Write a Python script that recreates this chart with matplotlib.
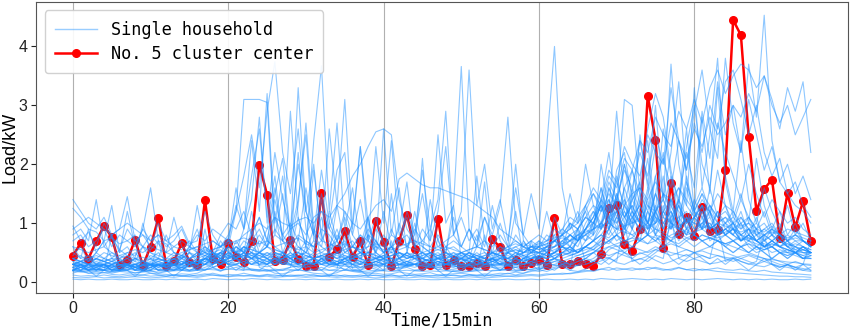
import matplotlib
matplotlib.use("Agg")
import matplotlib.pyplot as plt
from matplotlib.lines import Line2D

time_idx = list(range(96))

cluster_center = [
    0.45, 0.66, 0.40, 0.69, 0.96, 0.76, 0.29, 0.37, 0.72, 0.28, 0.60, 1.09,
    0.28, 0.35, 0.66, 0.34, 0.29, 1.39, 0.40, 0.30, 0.67, 0.43, 0.34, 0.69,
    1.99, 1.48, 0.35, 0.38, 0.71, 0.39, 0.28, 0.28, 1.52, 0.43, 0.56, 0.86,
    0.42, 0.69, 0.29, 1.04, 0.68, 0.27, 0.69, 1.14, 0.56, 0.27, 0.29, 1.07,
    0.29, 0.37, 0.27, 0.27, 0.33, 0.27, 0.73, 0.59, 0.27, 0.37, 0.27, 0.33,
    0.37, 0.29, 1.09, 0.31, 0.30, 0.35, 0.31, 0.27, 0.47, 1.26, 1.30, 0.64,
    0.52, 0.90, 3.16, 2.42, 0.58, 1.68, 0.81, 1.10, 0.79, 1.27, 0.86, 0.89,
    1.90, 4.45, 4.19, 2.47, 1.20, 1.58, 1.74, 0.75, 1.51, 0.93, 1.37, 0.69,
]

h01 = [0.22,0.18,0.15,0.14,0.16,0.13,0.12,0.14,0.13,0.12,0.15,0.14,
       0.13,0.12,0.14,0.13,0.15,0.21,0.24,0.18,0.26,0.31,0.22,0.2,
       0.18,0.21,0.15,0.14,0.17,0.22,0.18,0.15,0.14,0.13,0.16,0.21,
       0.18,0.16,0.14,0.15,0.13,0.14,0.17,0.15,0.13,0.14,0.16,0.12,
       0.13,0.14,0.15,0.13,0.12,0.14,0.13,0.15,0.14,0.17,0.15,0.18,
       0.21,0.18,0.23,0.26,0.2,0.18,0.22,0.31,0.36,0.42,0.33,0.3,
       0.36,0.39,0.44,0.37,0.31,0.35,0.41,0.47,0.39,0.35,0.31,0.33,
       0.37,0.42,0.35,0.31,0.28,0.26,0.31,0.27,0.25,0.22,0.2,0.18]
h02 = [0.05,0.04,0.05,0.04,0.04,0.05,0.04,0.04,0.05,0.04,0.04,0.05,
       0.04,0.05,0.04,0.04,0.05,0.04,0.06,0.05,0.04,0.05,0.04,0.06,
       0.05,0.04,0.05,0.04,0.04,0.05,0.04,0.05,0.04,0.04,0.05,0.04,
       0.04,0.05,0.04,0.05,0.04,0.04,0.05,0.04,0.04,0.05,0.04,0.04,
       0.05,0.04,0.04,0.05,0.04,0.05,0.04,0.04,0.05,0.04,0.04,0.05,
       0.04,0.05,0.04,0.04,0.05,0.04,0.05,0.04,0.06,0.05,0.04,0.05,
       0.06,0.05,0.04,0.05,0.04,0.06,0.05,0.04,0.05,0.04,0.05,0.06,
       0.05,0.04,0.05,0.04,0.05,0.04,0.05,0.04,0.04,0.05,0.04,0.05]
h03 = [0.35,0.3,0.28,0.26,0.3,0.27,0.25,0.28,0.26,0.3,0.33,0.29,
       0.27,0.25,0.24,0.26,0.28,0.3,0.45,0.6,0.52,0.4,0.35,0.3,
       0.28,0.26,0.3,0.32,0.28,0.26,0.25,0.27,0.3,0.34,0.29,0.27,
       0.25,0.24,0.26,0.28,0.27,0.25,0.24,0.26,0.3,0.28,0.26,0.25,
       0.24,0.26,0.27,0.25,0.24,0.26,0.28,0.3,0.27,0.25,0.26,0.28,
       0.3,0.32,0.29,0.27,0.26,0.28,0.3,0.35,0.4,0.55,0.62,0.5,
       0.45,0.48,0.52,0.6,0.55,0.5,0.47,0.44,0.5,0.53,0.48,0.45,
       0.42,0.4,0.44,0.47,0.43,0.4,0.38,0.36,0.34,0.33,0.31,0.3]
h04 = [1.25,1.1,0.9,0.85,0.7,0.75,0.65,0.7,0.8,0.6,0.55,0.7,
       0.65,0.5,0.45,0.55,0.6,0.5,0.45,0.4,0.35,0.4,0.45,0.5,
       0.4,0.35,0.3,0.35,0.4,0.3,0.25,0.3,0.35,0.3,0.28,0.3,
       0.25,0.3,0.28,0.25,0.3,0.32,0.28,0.26,0.3,0.27,0.25,0.28,
       0.3,0.28,0.25,0.27,0.3,0.28,0.26,0.25,0.28,0.3,0.32,0.3,
       0.28,0.3,0.35,0.32,0.3,0.28,0.35,0.4,0.5,0.6,0.55,0.5,
       0.6,0.7,0.65,0.8,0.75,0.7,0.9,0.85,0.8,0.7,0.75,0.8,
       0.85,0.9,0.8,0.75,0.7,0.65,0.6,0.7,0.65,0.6,0.55,0.5]
h05 = [0.8,0.9,0.7,1.4,0.6,0.8,0.5,1.2,0.6,0.9,1.6,0.7,
       0.5,1.1,0.6,0.5,1.3,0.6,0.4,0.7,0.5,0.4,0.6,0.5,
       0.35,0.4,0.3,0.5,0.4,0.3,0.35,0.3,0.4,0.3,0.35,0.3,
       0.3,0.25,0.3,0.35,0.3,0.25,0.3,0.28,0.3,0.25,0.3,0.35,
       0.3,0.25,0.3,0.28,0.25,0.3,0.35,0.3,0.28,0.25,0.3,0.35,
       0.3,0.35,0.4,0.35,0.3,0.35,0.4,0.5,0.6,0.9,0.7,0.8,
       1.1,0.9,1.4,0.8,1.0,1.2,0.9,1.1,0.8,1.3,0.9,1.0,
       0.8,0.9,0.7,0.8,0.6,0.7,0.8,0.6,0.7,0.5,0.6,0.55]
h06 = [0.95,0.7,0.85,0.6,1.0,0.75,0.55,0.9,0.7,0.8,0.6,1.0,
       0.7,0.8,0.95,0.65,0.7,1.2,0.8,0.6,0.75,0.5,0.6,0.55,
       0.5,0.45,0.55,0.5,0.4,0.45,0.5,0.4,0.45,0.4,0.35,0.4,
       0.45,0.4,0.35,0.4,0.38,0.35,0.4,0.45,0.4,0.35,0.38,0.4,
       0.35,0.4,0.38,0.36,0.4,0.35,0.38,0.42,0.4,0.38,0.36,0.4,
       0.42,0.4,0.45,0.5,0.48,0.45,0.5,0.6,0.75,0.9,1.1,0.95,
       1.2,1.0,1.3,1.1,0.9,1.4,1.2,1.0,1.1,1.3,1.2,0.9,
       1.0,1.1,0.95,1.0,0.9,0.85,0.95,0.8,0.9,0.85,0.8,0.75]
h07 = [0.3,0.25,0.3,0.28,0.25,0.3,0.35,0.3,0.25,0.3,0.28,0.3,
       0.35,0.3,0.4,0.35,0.3,0.45,0.4,0.5,0.6,1.2,3.1,3.1,
       3.1,3.05,0.8,1.5,0.6,2.2,0.9,0.5,1.4,0.7,0.5,0.6,
       0.4,0.5,0.45,0.4,0.35,0.4,0.3,0.35,0.3,0.35,0.4,0.3,
       0.3,0.35,0.3,0.28,0.3,0.35,0.3,0.28,0.3,0.32,0.3,0.35,
       0.3,0.35,0.4,0.35,0.3,0.4,0.45,0.5,0.6,0.7,0.8,0.6,
       0.9,0.7,1.2,0.8,0.6,1.0,0.7,0.9,0.8,1.1,0.7,0.8,
       0.6,0.7,0.8,0.6,0.5,0.55,0.6,0.5,0.45,0.5,0.4,0.45]
h08 = [0.5,0.4,0.45,0.4,0.5,0.45,0.4,0.5,0.45,0.6,0.5,0.45,
       0.4,0.5,0.45,0.6,0.55,0.5,0.7,0.6,0.8,1.2,1.8,2.5,
       1.6,2.9,3.74,2.2,1.5,2.6,1.2,0.8,1.9,1.0,0.7,1.2,
       0.8,0.6,0.9,0.7,0.5,0.6,0.5,0.45,0.5,0.4,0.45,0.5,
       0.4,0.45,0.4,0.5,0.45,0.4,0.5,0.45,0.4,0.45,0.5,0.55,
       0.5,0.45,0.5,0.6,0.55,0.5,0.6,0.7,0.9,1.1,0.8,1.3,
       1.0,1.5,0.9,1.2,1.4,1.0,1.3,0.9,1.1,1.2,0.9,1.0,
       0.8,0.9,0.7,0.8,0.7,0.6,0.7,0.6,0.55,0.5,0.5,0.45]
h09 = [0.2,0.25,0.2,0.22,0.2,0.25,0.2,0.3,0.25,0.2,0.25,0.3,
       0.25,0.3,0.35,0.3,0.4,0.35,0.5,0.4,0.6,0.5,0.9,1.4,
       2.8,1.0,1.8,0.7,2.9,1.1,0.6,2.4,3.67,1.2,2.7,0.9,
       1.6,0.6,1.1,0.5,0.8,0.6,0.4,0.5,0.45,0.4,0.35,0.4,
       0.35,0.3,0.4,0.35,0.3,0.35,0.4,0.3,0.35,0.3,0.4,0.45,
       0.4,0.35,0.4,0.5,0.45,0.5,0.6,0.55,0.7,0.9,1.2,0.8,
       1.5,1.1,0.8,1.3,1.0,0.9,1.4,1.1,0.9,1.0,1.2,0.8,
       0.9,1.0,0.8,0.7,0.9,0.6,0.7,0.8,0.6,0.5,0.6,0.5]
h10 = [0.3,0.35,0.3,0.4,0.35,0.3,0.35,0.4,0.3,0.35,0.3,0.4,
       0.35,0.3,0.4,0.5,0.35,0.4,0.45,0.5,0.4,0.6,0.5,0.8,
       1.1,0.7,1.5,2.1,0.8,3.3,1.2,2.0,0.7,2.6,1.3,3.1,
       0.9,2.3,1.0,0.6,2.6,0.8,1.6,0.5,1.2,0.6,0.5,0.45,
       0.5,0.4,0.45,0.5,0.4,0.35,0.4,0.45,0.4,0.5,0.45,0.4,
       0.5,0.45,0.5,0.55,0.6,0.5,0.7,0.8,1.0,0.9,1.3,1.0,
       1.6,1.2,0.9,1.8,1.1,1.4,1.0,1.7,1.2,0.9,1.3,1.1,
       1.0,1.2,0.9,1.1,0.8,0.9,1.0,0.8,0.7,0.8,0.7,0.6]
h11 = [0.25,0.3,0.25,0.3,0.28,0.25,0.3,0.25,0.3,0.28,0.3,0.25,
       0.3,0.28,0.25,0.3,0.35,0.3,0.4,0.35,0.5,0.45,0.6,0.5,
       0.7,0.6,0.8,0.7,0.9,1.0,0.8,1.1,1.2,0.9,1.3,1.5,
       1.8,2.0,2.3,2.55,2.6,2.5,1.4,0.9,0.7,0.6,0.5,0.55,
       0.5,0.45,0.5,0.4,0.45,0.4,0.35,0.4,0.45,0.4,0.35,0.4,
       0.45,0.4,0.45,0.5,0.55,0.5,0.6,0.7,0.8,1.0,0.9,1.1,
       1.3,1.0,0.8,1.2,0.9,1.1,1.4,0.9,1.0,1.2,0.8,0.9,
       0.8,0.9,0.7,0.75,0.7,0.6,0.65,0.6,0.55,0.5,0.55,0.5]
h12 = [0.4,0.35,0.4,0.38,0.35,0.4,0.38,0.35,0.4,0.42,0.38,0.35,
       0.4,0.38,0.42,0.4,0.45,0.5,0.55,0.6,0.7,0.65,0.8,0.9,
       1.0,0.9,1.1,1.0,0.95,1.05,1.1,1.0,1.2,1.1,1.3,1.2,
       1.0,0.9,1.1,1.3,1.4,1.2,1.75,1.85,1.75,1.65,1.6,1.6,
       1.55,1.5,1.45,1.4,1.3,1.2,1.1,0.9,0.8,0.7,0.6,0.55,
       0.5,0.55,0.6,0.65,0.7,0.75,0.8,0.9,1.0,1.2,1.4,1.3,
       1.5,1.6,1.4,1.7,1.5,1.3,1.6,1.4,1.2,1.5,1.3,1.1,
       1.2,1.0,1.1,0.9,1.0,0.8,0.9,0.8,0.7,0.75,0.7,0.65]
h13 = [0.3,0.25,0.3,0.35,0.3,0.25,0.3,0.28,0.3,0.35,0.3,0.28,
       0.3,0.35,0.4,0.3,0.35,0.4,0.5,0.45,0.6,0.5,0.7,0.6,
       0.8,0.6,0.9,0.7,0.6,0.8,0.7,0.6,0.9,0.8,0.6,0.7,
       0.5,0.6,0.8,0.7,0.5,0.9,0.6,1.2,0.8,1.5,0.7,2.5,
       1.0,1.3,3.66,0.9,0.6,1.1,0.7,0.5,0.6,0.5,0.45,0.5,
       0.6,0.5,0.7,0.6,0.5,0.7,0.8,0.9,1.2,1.4,1.1,1.6,
       1.9,1.3,1.0,1.5,1.2,1.8,1.1,0.9,1.3,1.6,1.2,1.0,
       1.1,0.9,1.0,0.8,0.9,0.7,0.8,0.7,0.6,0.65,0.6,0.55]
h14 = [0.2,0.25,0.2,0.25,0.3,0.2,0.25,0.3,0.25,0.2,0.3,0.25,
       0.3,0.25,0.3,0.35,0.3,0.4,0.35,0.3,0.45,0.4,0.5,0.6,
       0.5,0.7,0.6,0.5,0.8,0.6,0.5,0.7,0.6,0.5,0.8,0.6,
       0.7,0.5,0.6,0.9,0.7,0.5,1.0,0.6,0.8,1.9,0.9,1.4,
       2.9,0.8,1.2,3.6,1.3,2.0,0.9,1.4,0.7,1.6,0.8,0.6,
       0.7,0.5,0.6,0.8,0.7,0.6,0.9,1.1,1.4,1.0,1.8,1.2,
       0.9,1.4,2.1,1.0,1.5,1.2,0.8,1.6,1.1,1.3,0.9,1.2,
       1.0,0.8,1.1,0.9,0.7,0.8,0.9,0.7,0.6,0.7,0.6,0.5]
h15 = [0.3,0.35,0.3,0.25,0.3,0.35,0.3,0.28,0.3,0.25,0.3,0.35,
       0.3,0.28,0.3,0.35,0.3,0.4,0.35,0.3,0.4,0.5,0.45,0.4,
       0.5,0.6,0.5,0.45,0.6,0.5,0.7,0.6,0.5,0.6,0.7,0.5,
       0.6,0.5,0.7,0.6,0.5,0.6,0.7,0.8,0.6,0.7,0.9,0.6,
       0.7,0.8,0.6,0.9,0.7,1.1,0.8,1.3,2.8,1.0,0.8,1.5,
       0.9,2.3,4.0,1.6,0.9,1.2,0.8,1.0,1.3,0.9,1.5,1.1,
       1.3,1.0,1.6,0.9,1.2,1.4,1.0,0.8,1.1,1.3,0.9,1.0,
       0.8,1.0,0.7,0.9,0.8,0.6,0.7,0.8,0.6,0.5,0.6,0.5]
h16 = [0.3,0.25,0.3,0.28,0.25,0.3,0.28,0.25,0.3,0.25,0.28,0.3,
       0.25,0.3,0.28,0.3,0.35,0.3,0.4,0.35,0.4,0.45,0.4,0.5,
       0.45,0.4,0.5,0.45,0.4,0.5,0.45,0.4,0.45,0.5,0.4,0.45,
       0.4,0.45,0.5,0.4,0.45,0.4,0.5,0.45,0.4,0.45,0.5,0.4,
       0.45,0.4,0.5,0.45,0.4,0.45,0.5,0.45,0.5,0.55,0.5,0.6,
       0.55,0.6,0.7,0.6,0.8,0.7,0.9,1.2,1.0,1.6,1.3,2.0,
       1.5,2.4,1.7,1.2,2.6,1.8,1.4,2.2,1.6,2.9,2.1,3.4,
       2.5,3.0,2.2,3.7,2.8,4.53,2.4,1.7,2.0,1.5,1.8,1.4]
h17 = [0.4,0.35,0.4,0.45,0.4,0.35,0.4,0.45,0.4,0.35,0.4,0.38,
       0.35,0.4,0.45,0.4,0.45,0.5,0.45,0.5,0.55,0.5,0.6,0.55,
       0.5,0.6,0.55,0.5,0.6,0.55,0.6,0.5,0.55,0.6,0.5,0.55,
       0.6,0.55,0.5,0.6,0.55,0.5,0.55,0.6,0.55,0.5,0.55,0.6,
       0.55,0.6,0.5,0.55,0.6,0.55,0.5,0.6,0.55,0.6,0.65,0.6,
       0.65,0.7,0.75,0.8,0.9,1.0,1.2,1.5,1.3,1.8,1.6,2.1,
       1.9,2.4,2.2,2.8,2.5,2.3,2.9,2.6,3.1,2.7,3.3,3.6,
       3.2,3.5,3.7,3.6,3.3,3.5,3.0,2.7,3.0,2.5,2.8,3.1]
h18 = [0.3,0.35,0.3,0.28,0.3,0.35,0.3,0.28,0.3,0.35,0.3,0.28,
       0.3,0.35,0.3,0.4,0.35,0.3,0.4,0.45,0.4,0.5,0.45,0.4,
       0.5,0.45,0.4,0.5,0.45,0.5,0.4,0.45,0.5,0.45,0.4,0.5,
       0.45,0.4,0.5,0.45,0.4,0.45,0.5,0.4,0.45,0.5,0.4,0.45,
       0.5,0.45,0.4,0.5,0.45,0.4,0.5,0.45,0.5,0.55,0.5,0.6,
       0.6,0.65,0.7,0.8,0.9,1.1,1.3,1.6,1.4,1.9,1.7,2.3,
       2.0,1.8,2.5,2.2,2.0,2.7,2.4,2.1,2.6,2.3,2.8,2.5,
       2.7,3.0,2.8,3.2,2.9,3.5,3.1,2.6,3.3,2.9,3.4,2.2]
h19 = [0.2,0.25,0.2,0.25,0.2,0.22,0.2,0.25,0.2,0.22,0.25,0.2,
       0.22,0.2,0.25,0.3,0.25,0.3,0.35,0.3,0.35,0.4,0.3,0.35,
       0.3,0.35,0.4,0.3,0.35,0.3,0.35,0.4,0.3,0.35,0.3,0.4,
       0.35,0.3,0.4,0.35,0.3,0.35,0.4,0.35,0.3,0.35,0.3,0.35,
       0.3,0.35,0.4,0.3,0.35,0.3,0.4,0.35,0.3,0.4,0.35,0.4,
       0.45,0.4,0.5,0.6,0.7,0.9,1.2,0.8,2.0,1.2,2.9,1.4,
       0.9,2.5,1.6,3.0,1.4,2.2,3.4,1.7,1.2,2.8,1.5,3.3,
       1.8,1.2,2.4,1.4,1.0,1.6,1.2,0.9,1.3,0.8,1.0,0.7]
h20 = [0.25,0.2,0.25,0.3,0.25,0.2,0.25,0.3,0.25,0.2,0.25,0.3,
       0.25,0.2,0.3,0.25,0.3,0.35,0.3,0.4,0.35,0.4,0.45,0.4,
       0.45,0.4,0.35,0.4,0.45,0.4,0.35,0.4,0.45,0.4,0.35,0.4,
       0.45,0.4,0.35,0.4,0.45,0.4,0.35,0.4,0.45,0.4,0.35,0.4,
       0.4,0.35,0.4,0.45,0.4,0.35,0.4,0.45,0.4,0.35,0.4,0.45,
       0.5,0.45,0.5,0.6,0.55,0.7,0.8,0.7,1.0,1.3,0.9,1.6,
       1.2,0.8,1.5,2.3,1.4,3.7,2.0,1.3,3.3,1.6,2.5,3.8,
       1.7,1.1,1.5,1.0,2.1,1.3,0.9,1.2,0.8,1.0,0.7,0.6]
h21 = [0.2,0.18,0.2,0.22,0.2,0.18,0.2,0.22,0.2,0.18,0.2,0.22,
       0.2,0.22,0.25,0.2,0.25,0.3,0.25,0.3,0.35,0.3,0.35,0.4,
       0.35,0.3,0.35,0.4,0.35,0.3,0.35,0.4,0.35,0.3,0.35,0.3,
       0.35,0.3,0.35,0.4,0.35,0.3,0.35,0.3,0.35,0.4,0.35,0.3,
       0.35,0.3,0.35,0.4,0.35,0.3,0.35,0.4,0.35,0.3,0.4,0.35,
       0.4,0.45,0.5,0.6,0.5,0.7,0.9,0.8,1.4,2.2,1.3,3.1,
       3.0,1.5,2.4,1.1,1.8,1.0,1.4,2.6,1.2,0.9,1.6,1.1,
       1.3,0.9,1.2,0.8,1.1,0.7,0.9,0.8,0.7,0.6,0.7,0.6]
h22 = [0.3,0.28,0.3,0.32,0.3,0.28,0.3,0.32,0.3,0.28,0.3,0.32,
       0.3,0.28,0.3,0.35,0.3,0.35,0.4,0.35,0.4,0.45,0.4,0.45,
       0.4,0.45,0.5,0.45,0.4,0.45,0.5,0.45,0.4,0.45,0.5,0.45,
       0.4,0.45,0.5,0.45,0.4,0.45,0.5,0.45,0.4,0.45,0.5,0.45,
       0.4,0.45,0.5,0.45,0.4,0.45,0.5,0.45,0.4,0.45,0.5,0.55,
       0.5,0.55,0.6,0.7,0.8,0.7,0.9,1.1,1.6,1.0,1.9,2.2,
       1.4,1.7,2.6,3.2,2.8,1.9,1.3,2.3,3.0,2.0,1.6,2.7,
       2.2,1.8,1.4,2.0,1.5,1.1,1.4,1.2,1.0,1.1,0.9,0.8]
h23 = [0.15,0.2,0.15,0.18,0.2,0.15,0.18,0.2,0.15,0.18,0.2,0.15,
       0.18,0.2,0.22,0.2,0.25,0.2,0.25,0.3,0.25,0.3,0.35,0.3,
       0.35,0.3,0.4,0.35,0.3,0.4,0.35,0.3,0.4,0.35,0.3,0.35,
       0.4,0.35,0.3,0.35,0.4,0.35,0.3,0.35,0.4,0.35,0.3,0.35,
       0.3,0.35,0.4,0.35,0.3,0.35,0.4,0.35,0.5,0.45,0.6,0.5,
       0.7,0.6,1.1,0.8,1.5,1.0,2.0,1.3,0.9,1.6,1.2,0.9,
       1.4,1.1,0.8,1.2,0.9,1.3,1.0,0.8,1.1,0.9,1.2,0.8,
       1.0,0.9,0.8,0.9,0.7,0.8,0.7,0.6,0.7,0.55,0.6,0.5]
h24 = [0.6,0.55,0.5,0.55,0.6,0.5,0.45,0.5,0.55,0.5,0.6,0.55,
       0.5,0.45,0.5,0.55,0.6,0.65,0.7,0.6,0.65,0.7,0.75,0.7,
       0.65,0.7,0.6,0.65,0.7,0.75,0.65,0.6,0.7,0.65,0.6,0.65,
       0.6,0.55,0.6,0.65,0.6,0.55,0.6,0.65,0.7,0.65,0.6,0.55,
       0.6,0.55,0.5,0.55,0.6,0.55,0.5,0.55,0.6,0.65,0.6,0.55,
       0.6,0.65,0.7,0.75,0.7,0.8,0.85,0.9,0.95,1.0,0.9,0.95,
       1.0,1.05,0.95,1.0,1.1,1.0,0.95,1.05,1.0,0.95,0.9,1.0,
       0.95,0.9,0.85,0.9,0.85,0.8,0.85,0.8,0.75,0.8,0.75,0.7]
h25 = [0.12,0.1,0.11,0.1,0.12,0.1,0.09,0.11,0.1,0.12,0.1,0.11,
       0.1,0.12,0.11,0.1,0.12,0.14,0.12,0.11,0.13,0.12,0.15,0.12,
       0.11,0.13,0.12,0.1,0.12,0.11,0.13,0.12,0.1,0.11,0.12,0.1,
       0.11,0.1,0.12,0.11,0.1,0.12,0.1,0.11,0.12,0.1,0.11,0.1,
       0.12,0.11,0.1,0.12,0.11,0.1,0.12,0.11,0.1,0.11,0.12,0.13,
       0.12,0.14,0.13,0.15,0.14,0.16,0.18,0.2,0.22,0.25,0.2,0.22,
       0.24,0.21,0.25,0.23,0.2,0.22,0.25,0.21,0.23,0.2,0.22,0.24,
       0.21,0.2,0.22,0.19,0.18,0.2,0.17,0.16,0.15,0.14,0.13,0.12]
h26 = [0.25,0.2,0.22,0.25,0.2,0.8,0.22,0.2,0.25,0.22,0.2,0.7,
       0.22,0.2,0.25,0.2,0.22,0.9,0.25,0.2,0.22,0.25,0.2,0.85,
       0.25,0.2,0.22,0.2,0.25,0.75,0.2,0.22,0.25,0.2,0.22,0.8,
       0.22,0.2,0.25,0.22,0.2,0.7,0.22,0.25,0.2,0.22,0.25,0.75,
       0.2,0.22,0.25,0.2,0.22,0.8,0.25,0.2,0.22,0.25,0.2,0.7,
       0.22,0.25,0.2,0.3,0.25,0.9,0.3,0.35,0.3,0.4,0.35,1.0,
       0.35,0.4,0.35,0.45,0.4,1.1,0.4,0.35,0.4,0.45,0.4,0.95,
       0.35,0.4,0.35,0.3,0.35,0.8,0.3,0.25,0.3,0.25,0.3,0.7]
h27 = [0.45,0.6,0.35,0.5,0.7,0.4,0.55,0.45,0.35,0.6,0.4,0.5,
       0.35,0.3,0.45,0.35,0.3,0.4,0.35,0.45,0.3,0.35,0.4,0.3,
       0.35,0.3,0.4,0.35,0.3,0.25,0.3,0.35,0.3,0.25,0.3,0.35,
       0.3,0.25,0.3,0.35,0.3,0.25,0.3,0.28,0.25,0.3,0.28,0.25,
       0.3,0.28,0.25,0.3,0.28,0.25,0.3,0.32,0.3,0.28,0.3,0.32,
       0.35,0.3,0.35,0.4,0.45,0.5,0.55,0.6,0.7,0.65,0.8,0.7,
       0.75,0.9,0.8,0.7,0.85,0.75,0.8,0.9,0.7,0.8,0.75,0.7,
       0.65,0.7,0.6,0.65,0.55,0.6,0.5,0.55,0.5,0.45,0.4,0.45]
h28 = [0.2,0.25,0.22,0.2,0.25,0.22,0.2,0.25,0.22,0.2,0.25,0.3,
       0.25,0.3,0.25,0.35,0.3,0.4,0.35,0.5,0.4,0.7,0.5,1.2,
       0.6,0.9,1.6,0.7,0.5,1.1,0.6,1.9,0.8,0.5,1.3,0.6,
       1.0,2.3,0.7,0.5,1.2,0.6,0.9,1.7,0.6,0.5,1.4,0.7,
       0.5,1.1,0.6,0.5,1.8,0.7,0.5,1.0,0.6,2.0,0.7,0.5,
       0.6,1.2,0.7,0.8,0.6,0.9,0.7,1.0,1.3,0.9,1.5,1.1,
       0.9,1.2,1.0,1.5,1.1,0.9,1.3,1.0,1.4,1.1,0.9,1.2,
       0.9,1.0,0.8,0.9,0.7,0.8,0.7,0.6,0.65,0.6,0.55,0.5]
h29 = [0.3,0.35,0.3,0.4,0.35,0.3,0.35,0.3,0.4,0.35,0.3,0.35,
       0.3,0.4,0.35,0.3,0.4,0.45,0.4,0.5,0.45,0.6,0.5,0.7,
       0.9,0.6,1.1,0.8,0.6,1.3,2.7,0.9,0.7,1.0,1.9,2.2,
       0.8,1.4,0.7,2.3,1.0,2.4,0.8,1.1,0.6,0.9,0.7,1.2,
       2.3,0.8,1.1,0.7,0.9,0.6,1.3,0.7,0.5,0.8,0.6,0.7,
       0.6,0.8,0.7,0.9,0.8,0.7,1.0,1.2,0.9,1.4,1.0,1.3,
       1.1,0.9,1.2,1.0,1.3,0.9,1.1,1.2,0.9,1.0,1.1,0.8,
       0.9,0.8,1.0,0.7,0.8,0.7,0.6,0.7,0.6,0.55,0.5,0.5]
h30 = [0.25,0.3,0.25,0.28,0.3,0.25,0.28,0.3,0.25,0.28,0.3,0.25,
       0.28,0.3,0.35,0.3,0.35,0.4,0.35,0.4,0.45,0.4,0.45,0.5,
       0.45,0.5,0.45,0.4,0.45,0.5,0.45,0.4,0.45,0.5,0.45,0.4,
       0.45,0.5,0.45,0.4,0.45,0.5,0.45,0.4,0.45,0.5,0.45,0.4,
       0.45,0.5,0.45,0.4,0.45,0.5,0.45,0.5,0.55,0.5,0.55,0.6,
       0.55,0.6,0.7,0.65,0.8,0.9,1.1,1.0,1.4,1.2,1.7,1.3,
       1.9,1.5,1.2,1.8,2.1,1.6,2.4,1.9,2.7,2.2,3.0,2.6,
       3.4,3.6,3.1,2.5,3.0,2.2,1.8,2.1,1.5,1.7,1.3,1.1]
h31 = [0.3,0.28,0.25,0.22,0.2,0.18,0.2,0.22,0.25,0.28,0.3,0.28,
       0.25,0.22,0.2,0.18,0.2,0.25,0.3,0.35,0.3,0.28,0.25,0.22,
       0.2,0.18,0.2,0.22,0.25,0.28,0.3,0.32,0.3,0.28,0.25,0.22,
       0.2,0.18,0.16,0.18,0.2,0.22,0.25,0.28,0.3,0.28,0.25,0.22,
       0.2,0.18,0.16,0.18,0.2,0.22,0.25,0.22,0.2,0.18,0.2,0.22,
       0.25,0.28,0.3,0.35,0.4,0.45,0.5,0.55,0.5,0.45,0.5,0.55,
       0.6,0.55,0.5,0.55,0.6,0.65,0.6,0.55,0.5,0.55,0.6,0.55,
       0.5,0.45,0.4,0.45,0.4,0.35,0.4,0.35,0.3,0.35,0.3,0.28]
h32 = [0.4,0.35,0.45,0.3,0.35,0.4,0.3,0.25,0.3,0.2,0.15,0.12,
       0.1,0.12,0.1,0.12,0.1,0.12,0.15,0.12,0.1,0.12,0.1,0.12,
       0.1,0.12,0.1,0.12,0.1,0.12,0.1,0.12,0.1,0.12,0.1,0.12,
       0.1,0.12,0.1,0.12,0.1,0.12,0.1,0.12,0.1,0.12,0.1,0.12,
       0.1,0.12,0.1,0.12,0.1,0.12,0.1,0.12,0.15,0.12,0.15,0.2,
       0.18,0.22,0.25,0.3,0.28,0.35,0.4,0.35,0.45,0.4,0.5,0.45,
       0.4,0.5,0.45,0.55,0.5,0.45,0.5,0.55,0.5,0.45,0.4,0.45,
       0.4,0.35,0.4,0.35,0.3,0.35,0.3,0.25,0.3,0.25,0.2,0.25]
h33 = [0.4,0.45,0.35,0.5,0.4,0.35,0.45,0.4,0.5,0.35,0.45,0.4,
       0.35,0.45,0.4,0.5,0.45,0.55,0.5,0.45,0.6,0.5,0.55,0.45,
       0.5,0.4,0.45,0.5,0.4,0.35,0.45,0.4,0.35,0.45,0.4,0.35,
       0.4,0.35,0.3,0.35,0.4,0.35,0.3,0.35,0.3,0.35,0.4,0.35,
       0.3,0.35,0.3,0.35,0.4,0.3,0.35,0.3,0.35,0.4,0.35,0.4,
       0.45,0.4,0.5,0.45,0.5,0.55,0.6,0.55,0.65,0.7,0.6,0.65,
       0.7,0.75,0.65,0.7,0.8,0.7,0.65,0.75,0.7,0.8,0.75,0.7,
       0.65,0.7,0.6,0.65,0.6,0.55,0.6,0.5,0.55,0.5,0.45,0.5]
h34 = [1.4,1.2,1.0,0.9,1.1,0.8,0.9,1.45,0.7,0.6,0.8,0.65,
       0.5,0.6,0.55,0.7,0.5,0.45,0.5,0.55,0.45,0.4,0.5,0.45,
       0.4,0.35,0.4,0.45,0.35,0.4,0.35,0.3,0.35,0.4,0.3,0.35,
       0.3,0.35,0.3,0.28,0.3,0.35,0.3,0.28,0.3,0.32,0.3,0.28,
       0.3,0.32,0.28,0.3,0.35,0.3,0.28,0.3,0.32,0.35,0.3,0.35,
       0.4,0.35,0.4,0.45,0.5,0.55,0.6,0.7,0.8,0.75,0.9,0.85,
       0.8,0.9,1.0,0.9,0.85,0.95,0.9,0.8,0.85,0.9,0.8,0.75,
       0.8,0.7,0.75,0.7,0.65,0.6,0.65,0.6,0.55,0.5,0.55,0.5]
h35 = [0.18,0.17,0.18,0.17,0.16,0.17,0.18,0.17,0.16,0.17,0.18,0.17,
       0.18,0.19,0.2,0.19,0.2,0.22,0.21,0.2,0.22,0.21,0.2,0.22,
       0.21,0.2,0.19,0.2,0.21,0.2,0.19,0.2,0.21,0.2,0.19,0.2,
       0.19,0.18,0.19,0.2,0.19,0.18,0.19,0.2,0.19,0.18,0.19,0.18,
       0.19,0.18,0.19,0.18,0.19,0.2,0.19,0.2,0.21,0.2,0.22,0.21,
       0.23,0.25,0.28,0.3,0.35,0.4,0.45,0.5,0.55,0.6,0.65,0.7,
       0.75,0.7,0.8,0.75,0.7,0.8,0.85,0.75,0.8,0.7,0.75,0.7,
       0.65,0.6,0.55,0.5,0.45,0.4,0.35,0.3,0.28,0.25,0.23,0.2]
h36 = [0.35,0.3,0.35,0.4,0.35,0.3,0.35,0.4,0.35,0.3,0.35,0.4,
       0.35,0.4,0.45,0.4,0.5,0.45,0.55,0.6,0.7,1.6,0.9,2.4,
       1.2,3.2,1.0,1.8,0.8,1.4,2.5,0.7,1.1,0.6,0.9,0.5,
       0.6,0.5,0.45,0.5,0.4,0.45,0.5,0.4,0.45,0.4,0.35,0.4,
       0.35,0.4,0.35,0.4,0.35,0.4,0.35,0.4,0.35,0.4,0.45,0.4,
       0.45,0.5,0.55,0.6,0.7,0.8,0.9,1.1,1.3,1.0,1.2,0.9,
       1.1,1.3,1.0,0.8,1.2,1.0,0.9,1.1,0.8,1.0,0.9,0.7,
       0.8,0.7,0.6,0.7,0.6,0.55,0.6,0.5,0.45,0.5,0.45,0.4]
h37 = [0.2,0.3,0.2,0.1,0.2,0.3,0.2,0.2,0.1,0.2,0.3,0.2,
       0.2,0.1,0.2,0.3,0.2,0.2,0.3,0.4,0.3,0.2,0.3,0.2,
       0.2,0.3,0.2,0.1,0.2,0.2,0.3,0.2,0.2,0.1,0.2,0.3,
       0.2,0.2,0.1,0.2,0.3,0.2,0.2,0.1,0.2,0.2,0.3,0.2,
       0.1,0.2,0.2,0.3,0.2,0.1,0.2,0.2,0.3,0.2,0.2,0.3,
       0.2,0.3,0.4,0.3,0.2,0.3,0.4,0.5,0.4,0.3,0.4,0.5,
       0.4,0.3,0.4,0.5,0.6,0.4,0.3,0.4,0.5,0.4,0.3,0.4,
       0.3,0.4,0.3,0.2,0.3,0.4,0.3,0.2,0.3,0.2,0.3,0.2]
h38 = [0.9,1.0,1.1,1.0,0.9,0.8,0.9,1.0,0.9,0.8,0.7,0.8,
       0.7,0.6,0.7,0.6,0.5,0.6,0.5,0.4,0.5,0.4,0.3,0.4,
       0.3,0.3,0.4,0.3,0.3,0.2,0.3,0.3,0.2,0.3,0.3,0.2,
       0.3,0.2,0.3,0.3,0.2,0.3,0.2,0.3,0.3,0.2,0.3,0.2,
       0.3,0.3,0.2,0.3,0.2,0.3,0.3,0.2,0.3,0.3,0.4,0.3,
       0.4,0.5,0.4,0.5,0.6,0.5,0.6,0.7,0.8,0.7,0.8,0.9,
       0.8,0.7,0.8,0.9,0.8,0.7,0.6,0.7,0.8,0.7,0.6,0.7,
       0.6,0.5,0.6,0.5,0.6,0.5,0.4,0.5,0.4,0.5,0.4,0.5]
h39 = [0.08,0.07,0.08,0.09,0.07,0.08,0.07,0.08,0.09,0.08,0.07,0.08,
       0.09,0.08,0.1,0.09,0.08,0.1,0.12,0.1,0.09,0.1,0.11,0.1,
       0.09,0.1,0.08,0.09,0.1,0.09,0.08,0.09,0.1,0.09,0.08,0.09,
       0.08,0.09,0.08,0.07,0.08,0.09,0.08,0.07,0.08,0.09,0.08,0.07,
       0.08,0.07,0.08,0.09,0.08,0.07,0.08,0.09,0.1,0.09,0.1,0.11,
       0.1,0.12,0.14,0.13,0.15,0.17,0.2,0.18,0.22,0.2,0.24,0.22,
       0.2,0.23,0.21,0.25,0.22,0.2,0.24,0.21,0.19,0.22,0.2,0.18,
       0.17,0.16,0.15,0.14,0.13,0.12,0.11,0.1,0.1,0.09,0.09,0.08]
h40 = [0.6,0.4,0.9,0.5,0.7,1.3,0.5,0.6,0.4,1.0,0.5,0.4,
       0.8,0.5,0.4,0.6,0.9,0.5,0.4,0.5,0.7,0.5,0.4,0.9,
       0.5,0.6,1.2,0.5,0.4,0.6,0.5,0.9,0.4,0.5,0.7,0.4,
       0.5,0.4,0.8,0.5,0.4,0.6,0.4,0.5,1.0,0.4,0.5,0.4,
       0.6,0.4,0.5,0.4,0.8,0.5,0.4,0.6,0.5,0.4,0.7,0.5,
       0.6,0.5,0.8,0.6,1.0,0.7,1.3,0.9,1.6,1.1,1.4,2.0,
       1.2,1.7,1.0,1.5,2.2,1.3,1.0,1.8,1.2,1.5,1.1,1.9,
       1.3,1.0,1.4,1.1,0.9,1.2,0.8,1.0,0.7,0.9,0.7,0.6]
h41 = [0.3,0.2,0.3,0.2,0.3,0.2,0.2,0.3,0.2,0.3,0.2,0.3,
       0.2,0.3,0.2,0.3,0.3,0.4,0.3,0.4,0.3,0.4,0.5,0.4,
       0.3,0.4,0.3,0.4,0.3,0.3,0.4,0.3,0.4,0.3,0.3,0.4,
       0.3,0.3,0.4,0.3,0.3,0.4,0.3,0.3,0.4,0.3,0.3,0.4,
       0.3,0.4,0.3,0.3,0.4,0.3,0.3,0.4,0.4,0.5,0.4,0.5,
       0.5,0.6,0.7,0.8,1.0,0.9,1.1,1.3,1.2,1.5,1.3,1.1,
       1.4,1.6,1.3,1.2,1.5,1.4,1.6,1.3,1.1,1.4,1.2,1.5,
       1.3,1.2,1.0,1.1,0.9,1.0,0.8,0.9,0.7,0.8,0.7,0.6]
h42 = [0.7,0.8,0.6,0.7,0.9,0.6,0.8,0.7,0.6,0.9,0.7,0.8,
       0.6,0.7,0.9,0.6,0.8,0.7,0.9,0.8,1.0,0.9,1.2,0.8,
       1.1,0.7,1.4,0.8,1.0,0.7,1.6,0.8,0.6,1.2,0.7,0.9,
       0.6,0.8,0.7,1.1,0.6,0.8,0.7,0.6,0.9,0.7,0.6,0.8,
       0.6,0.7,0.6,0.9,0.6,0.7,0.6,0.8,0.6,0.7,0.6,0.7,
       0.8,0.7,0.9,0.8,1.0,0.9,1.1,1.0,1.3,1.1,1.2,1.4,
       1.1,1.3,1.0,1.2,1.4,1.1,1.3,1.0,1.2,1.1,1.3,1.0,
       1.1,1.0,0.9,1.0,0.8,0.9,0.8,0.7,0.8,0.7,0.7,0.6]
h43 = [0.2,0.3,0.2,0.2,0.3,0.2,0.2,0.3,0.2,0.2,0.3,0.2,
       0.2,0.3,0.2,0.3,0.2,0.3,0.3,0.4,0.3,0.3,0.4,0.3,
       0.4,0.3,0.5,0.3,0.4,0.3,0.6,0.3,0.4,0.3,0.5,0.3,
       0.4,0.3,1.1,0.4,0.3,1.5,0.4,0.3,0.5,2.1,0.4,0.3,
       0.5,1.3,0.4,0.3,0.6,1.7,0.4,0.3,0.5,1.2,0.4,0.5,
       0.4,0.6,0.5,0.7,0.6,0.8,0.7,0.9,1.0,0.8,1.1,0.9,
       1.2,1.0,0.9,1.1,1.0,1.2,0.9,1.0,1.1,0.9,1.0,0.8,
       0.9,0.8,0.7,0.8,0.7,0.6,0.7,0.6,0.5,0.6,0.5,0.5]
h44 = [0.3,0.3,0.2,0.3,0.3,0.2,0.3,0.3,0.2,0.3,0.3,0.2,
       0.3,0.3,0.3,0.4,0.3,0.4,0.4,0.3,0.4,0.4,0.5,0.4,
       0.4,0.5,0.4,0.4,0.5,0.4,0.4,0.5,0.4,0.4,0.5,0.4,
       0.4,0.5,0.4,0.4,0.5,0.4,0.4,0.5,0.4,0.4,0.5,0.4,
       0.4,0.5,0.4,0.4,0.5,0.4,0.4,0.5,0.5,0.6,0.5,0.6,
       0.6,0.7,0.8,0.9,1.1,1.0,1.3,1.5,1.2,1.7,1.4,1.9,
       1.6,2.2,1.8,2.5,2.0,3.3,2.4,1.9,2.9,3.6,2.6,2.1,
       3.8,2.7,2.2,3.1,2.5,1.9,2.3,1.7,1.5,1.3,1.2,1.0]
h45 = [0.4,0.3,0.4,0.3,0.4,0.5,0.4,0.3,0.4,0.3,0.4,0.3,
       0.3,0.4,0.3,0.4,0.5,0.4,0.5,0.4,0.5,0.6,0.5,0.4,
       0.5,0.4,0.3,0.4,0.5,0.4,0.3,0.4,0.3,0.4,0.3,0.4,
       0.3,0.4,0.3,0.3,0.4,0.3,0.4,0.3,0.3,0.4,0.3,0.3,
       0.4,0.3,0.3,0.4,0.3,0.3,0.4,0.3,0.4,0.3,0.4,0.4,
       0.4,0.5,0.4,0.5,0.6,0.5,0.6,0.7,0.6,0.7,0.8,0.7,
       0.6,0.7,0.8,0.7,0.6,0.7,0.8,0.7,0.6,0.7,0.6,0.7,
       0.6,0.5,0.6,0.5,0.6,0.5,0.4,0.5,0.4,0.5,0.4,0.4]
h46 = [0.2,0.2,0.3,0.2,0.2,0.3,0.2,0.2,0.3,0.2,0.2,0.3,
       0.3,0.4,0.3,0.5,0.4,0.6,0.5,0.8,0.7,1.3,0.9,1.8,
       2.6,1.1,2.2,1.4,0.9,2.0,1.2,0.8,1.5,0.9,0.7,1.1,
       0.6,0.8,0.5,0.7,0.5,0.6,0.4,0.5,0.4,0.5,0.4,0.4,
       0.5,0.4,0.4,0.5,0.4,0.4,0.5,0.4,0.5,0.4,0.5,0.5,
       0.5,0.6,0.6,0.7,0.8,0.7,0.9,1.0,0.9,1.1,1.0,1.2,
       1.0,1.1,0.9,1.0,1.2,1.0,0.9,1.1,1.0,0.9,1.0,0.8,
       0.9,0.8,0.7,0.8,0.7,0.6,0.6,0.5,0.5,0.5,0.4,0.4]

households = [h01, h02, h03, h04, h05, h06, h07, h08, h09, h10, h11, h12,
              h13, h14, h15, h16, h17, h18, h19, h20, h21, h22, h23, h24,
              h25, h26, h27, h28, h29, h30, h31, h32, h33, h34, h35, h36,
              h37, h38, h39, h40, h41, h42, h43, h44, h45, h46]

x_ticks = [0, 20, 40, 60, 80]
y_ticks = [0, 1, 2, 3, 4]
x_label = "Time/15min"
y_label = "Load/kW"
label_household = "Single household"
label_center = "No. 5 cluster center"

mono = ["DejaVu Sans Mono"]
sans = ["Liberation Sans", "DejaVu Sans"]
blue = "#1E90FF"

fig = plt.figure(figsize=(8.58, 3.31), dpi=100)
ax = fig.add_axes([0.042, 0.115, 0.946, 0.879])

# cluster center first, households drawn over it (as in the reference)
center_line, = ax.plot(time_idx, cluster_center, color="red", lw=1.8,
                       marker="o", markersize=5.5, zorder=2)
for h in households:
    ax.plot(time_idx, h, color=blue, lw=0.8, alpha=0.5, zorder=3)

hh_handle = Line2D([], [], color=blue, lw=1.0, alpha=0.45)
ax.legend([hh_handle, center_line], [label_household, label_center],
          loc="upper left", prop={"family": mono, "size": 12.2},
          handlelength=2.5, borderpad=0.6, labelspacing=0.38,
          framealpha=0.9, edgecolor="#cccccc")

ax.set_xticks(x_ticks)
ax.set_yticks(y_ticks)
for t in ax.get_xticklabels() + ax.get_yticklabels():
    t.set_fontfamily(sans)
    t.set_fontsize(11.5)
ax.tick_params(colors="#222222", length=3.5, pad=2.5)
ax.grid(axis="x", color="#b0b0b0", lw=0.8)
ax.set_axisbelow(True)
for s in ax.spines.values():
    s.set_color("#555555")

ax.set_xlabel(x_label, fontfamily=mono, fontsize=12.3)
ax.xaxis.set_label_coords(0.5, -0.065)
ax.set_ylabel(y_label, fontfamily=sans, fontsize=13)
ax.yaxis.set_label_coords(-0.022, 0.5)

fig.savefig("out.png", dpi=100)
